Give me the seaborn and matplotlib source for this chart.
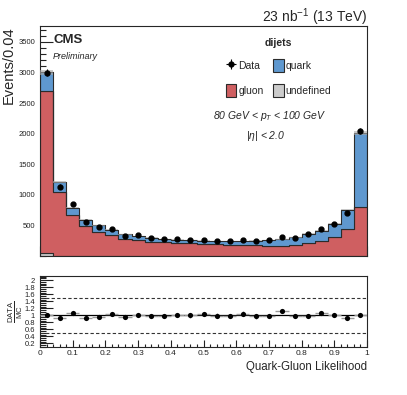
import numpy as np
import pandas as pd
import matplotlib
matplotlib.use("Agg")
import matplotlib.pyplot as plt
import seaborn as sns
from matplotlib.ticker import MultipleLocator, FixedLocator
from matplotlib.patches import Patch

# ---- data (25 bins of width 0.04) ----
bin_edges = [round(0.04 * i, 2) for i in range(26)]
gluon = [2650, 1034, 669, 489, 397, 337, 283, 256, 235, 222, 212, 205, 196,
         188, 182, 178, 172, 168, 163, 186, 207, 245, 316, 435, 805]
quark = [295, 171, 116, 100, 100, 90, 69, 72, 61, 56, 54, 58, 54,
         55, 61, 68, 76, 92, 107, 117, 156, 168, 207, 323, 1202]
undefined = [55, 8, 5, 4, 3, 3, 2, 2, 2, 2, 2, 2, 2,
             2, 2, 2, 2, 2, 2, 2, 2, 2, 2, 2, 3]
data = [2995, 1136, 845, 549, 475, 443, 333, 337, 289, 274, 273, 265, 262,
        243, 240, 260, 243, 259, 307, 302, 354, 444, 525, 707, 2044]
y_ticks_top = [500, 1000, 1500, 2000, 2500, 3000, 3500]
x_ticks = [0, 0.1, 0.2, 0.3, 0.4, 0.5, 0.6, 0.7, 0.8, 0.9, 1]
x_ticklabels = ["0", "0.1", "0.2", "0.3", "0.4", "0.5", "0.6", "0.7", "0.8", "0.9", "1"]
r_ticks = [0.2, 0.4, 0.6, 0.8, 1, 1.2, 1.4, 1.6, 1.8, 2]
r_ticklabels = ["0.2", "0.4", "0.6", "0.8", "1", "1.2", "1.4", "1.6", "1.8", "2"]

col_quark = "#5f98cf"
col_gluon = "#cf5f61"
col_undef = "#cccccc"
edge = "#2b2b2b"

sns.set_theme(style="ticks")
plt.rcParams["font.family"] = ["Liberation Sans", "DejaVu Sans"]
plt.rcParams["mathtext.fontset"] = "custom"
plt.rcParams["mathtext.rm"] = "Liberation Sans"
plt.rcParams["mathtext.it"] = "Liberation Sans:italic"
plt.rcParams["mathtext.sf"] = "Liberation Sans"

edges_arr = np.array(bin_edges, float)
centers = (edges_arr[:-1] + edges_arr[1:]) / 2
gluon = np.array(gluon, float)
quark = np.array(quark, float)
undefined = np.array(undefined, float)
data = np.array(data, float)
total = gluon + quark + undefined
ratio = data / total

df = pd.concat([
    pd.DataFrame({"x": centers, "w": quark, "flavor": "quark"}),
    pd.DataFrame({"x": centers, "w": gluon, "flavor": "gluon"}),
    pd.DataFrame({"x": centers, "w": undefined, "flavor": "undefined"}),
], ignore_index=True)

fig = plt.figure(figsize=(4.07, 3.95), dpi=100)
W, H = 407.0, 395.0
ax = fig.add_axes([40 / W, 1 - 256 / H, 327 / W, 230 / H])
axr = fig.add_axes([40 / W, 1 - 347 / H, 327 / W, 71 / H])

sns.histplot(data=df, x="x", weights="w", hue="flavor",
             hue_order=["quark", "gluon", "undefined"],
             bins=bin_edges, multiple="stack", element="step",
             palette={"quark": col_quark, "gluon": col_gluon, "undefined": col_undef},
             edgecolor=edge, linewidth=0.8, alpha=1, legend=False, ax=ax)

# MC uncertainty band (light gray)
for i in range(len(centers)):
    ax.fill_between([edges_arr[i], edges_arr[i + 1]],
                    total[i] * 0.985, total[i] * 1.015,
                    color="#aaaaaa", alpha=0.6, lw=0, zorder=3)

ax.errorbar(centers, data, yerr=np.sqrt(data), fmt="o", color="black",
            ms=3.5, elinewidth=0.8, capsize=0, zorder=5)
data_handle = ax.errorbar([-1], [-1], xerr=[0.02], yerr=[80], fmt="o",
                          color="black", ms=3.5, elinewidth=0.8, capsize=0)

ax.set_xlim(0, 1)
ax.set_ylim(0, 3760)
ax.yaxis.set_major_locator(FixedLocator(y_ticks_top))
ax.yaxis.set_minor_locator(MultipleLocator(100))
ax.xaxis.set_major_locator(FixedLocator(x_ticks))
ax.xaxis.set_minor_locator(MultipleLocator(0.02))
ax.set_xticklabels([])
ax.set_xlabel("")
ax.set_ylabel("Events/0.04", fontsize=10.5, loc="top")
ax.yaxis.set_label_coords(-0.074, 1.0)
ax.tick_params(axis="both", which="both", direction="in", labelsize=5.5,
               colors="#222222", width=0.8)
ax.tick_params(axis="y", which="major", length=9)
ax.tick_params(axis="y", which="minor", length=4.5)
ax.tick_params(axis="x", which="major", length=7)
ax.tick_params(axis="x", which="minor", length=3.5)
for s in ax.spines.values():
    s.set_linewidth(0.8)
    s.set_visible(True)

ax.text(0.04, 0.965, "CMS", transform=ax.transAxes, fontsize=9.5,
        fontweight="bold", va="top", ha="left")
ax.text(0.04, 0.885, "Preliminary", transform=ax.transAxes, fontsize=6.5,
        style="italic", va="top", ha="left")
fig.text(367 / W, 1 - 22 / H, r"23 nb$^{-1}$ (13 TeV)", fontsize=10,
         ha="right", va="baseline")

handles = [
    data_handle,
    Patch(facecolor=col_gluon, edgecolor=edge, lw=0.8),
    Patch(facecolor=col_quark, edgecolor=edge, lw=0.8),
    Patch(facecolor=col_undef, edgecolor=edge, lw=0.8),
]
labels = ["Data", "gluon", "quark", "undefined"]
leg = ax.legend(handles, labels, ncol=2, title="dijets", frameon=False,
                loc="upper center", bbox_to_anchor=(0.73, 0.99),
                fontsize=7.5, title_fontproperties={"weight": "bold", "size": 7.5},
                handlelength=1.0, handleheight=1.6, handletextpad=0.2,
                columnspacing=0.9, labelspacing=1.1)
leg._legend_box.sep = 8
ax.text(0.703, 0.608, r"80 GeV < $p_{T}$ < 100 GeV", transform=ax.transAxes,
        fontsize=7.5, style="italic", ha="center", va="center")
ax.text(0.69, 0.52, r"|$\eta$| < 2.0", transform=ax.transAxes,
        fontsize=7.5, style="italic", ha="center", va="center")

# ---- ratio panel ----
axr.axhline(1.0, color="black", lw=0.9, zorder=2)
axr.axhline(0.5, color="#333333", lw=0.8, ls=(0, (3, 2)), zorder=1)
axr.axhline(1.5, color="#333333", lw=0.8, ls=(0, (3, 2)), zorder=1)
axr.errorbar(centers, ratio, xerr=0.02, yerr=np.sqrt(data) / total,
             fmt="none", ecolor="#999999", elinewidth=1.0, capsize=0, zorder=3)
sns.scatterplot(x=centers, y=ratio, color="black", s=14, edgecolor="black",
                linewidth=0, ax=axr, zorder=4)
axr.set_xlim(0, 1)
axr.set_ylim(0.1, 2.12)
axr.xaxis.set_major_locator(FixedLocator(x_ticks))
axr.set_xticklabels(x_ticklabels)
axr.xaxis.set_minor_locator(MultipleLocator(0.02))
axr.yaxis.set_major_locator(FixedLocator(r_ticks))
axr.set_yticklabels(r_ticklabels)
axr.yaxis.set_minor_locator(MultipleLocator(0.05))
axr.tick_params(axis="both", which="both", direction="in", labelsize=5.5,
                colors="#222222", width=0.8)
axr.tick_params(axis="y", which="major", length=9)
axr.tick_params(axis="y", which="minor", length=4.5)
axr.tick_params(axis="x", which="major", length=5)
axr.tick_params(axis="x", which="minor", length=2.5)
axr.tick_params(axis="x", pad=2, labelsize=6)
for s in axr.spines.values():
    s.set_linewidth(0.8)
    s.set_visible(True)
axr.set_xlabel("Quark-Gluon Likelihood", fontsize=8.3, loc="right", labelpad=3)
axr.set_ylabel(r"$\frac{\mathsf{DATA}}{\mathsf{MC}}$", fontsize=8)
axr.yaxis.set_label_coords(-0.045, 0.5)

fig.savefig("out.png", dpi=100)
